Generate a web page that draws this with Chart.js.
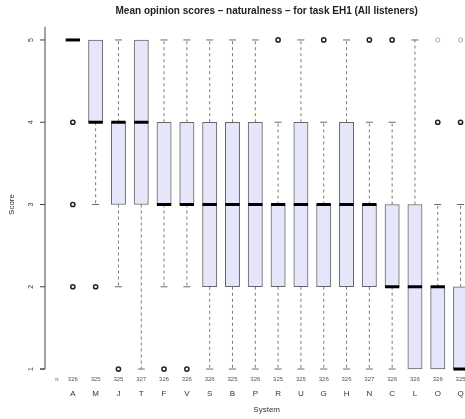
<!DOCTYPE html>
<html>
<head>
<meta charset="utf-8">
<script src="https://cdn.jsdelivr.net/npm/chart.js@4.4.0/dist/chart.umd.min.js"></script>
<style>
  html, body { margin: 0; padding: 0; background: #fff; overflow: hidden; width: 465px; height: 419px; }
  canvas { display: block; }
</style>
</head>
<body>
<canvas id="chart" width="490" height="419" style="width:490px;height:419px"></canvas>
<script>
// Systems in plotted order and the number of ratings each received
const systems = ['A','M','J','T','F','V','S','B','P','R','U','G','H','N','C','L','O','Q'];
const counts  = [326,325,325,327,326,326,326,325,326,325,325,326,326,327,326,326,326,325];

// Five-number summaries of the scores
const lowerQuartile = [5,4,3,3,3,3,2,2,2,2,2,2,2,2,2,1,1,1];
const medians       = [5,4,4,4,3,3,3,3,3,3,3,3,3,3,2,2,2,1];
const upperQuartile = [5,5,4,5,4,4,4,4,4,3,4,3,4,3,3,3,2,2];
const whiskerLow    = [5,3,2,1,2,2,1,1,1,1,1,1,1,1,1,1,1,1];
const whiskerHigh   = [5,5,5,5,5,5,5,5,5,4,5,4,5,4,4,5,3,3];

// Outlying scores (frequent ones and single, rare ones)
const outliers     = [[4,3,2],[2],[1],[],[1],[1],[],[],[],[5],[],[5],[],[5],[5],[],[4],[4]];
const rareOutliers = [[],[],[],[],[],[],[],[],[],[],[],[],[],[],[],[],[5],[5]];

const scoreTicks = [1,2,3,4,5];

const FONT = "'Liberation Sans', Arial, Helvetica, sans-serif";
const BOX_W = 14.3;
const STAPLE_W = 7;

const boxPlot = {
  id: 'boxPlot',
  beforeDatasetsDraw(chart) {
    const {ctx, scales: {x, y}} = chart;
    ctx.save();
    systems.forEach((s, i) => {
      const px = x.getPixelForValue(i + 1);
      // dashed whiskers
      ctx.setLineDash([3, 3]);
      ctx.strokeStyle = '#7a7a7a';
      ctx.lineWidth = 1;
      if (whiskerHigh[i] > upperQuartile[i]) {
        ctx.beginPath();
        ctx.moveTo(px, y.getPixelForValue(upperQuartile[i]));
        ctx.lineTo(px, y.getPixelForValue(whiskerHigh[i]));
        ctx.stroke();
      }
      if (whiskerLow[i] < lowerQuartile[i]) {
        ctx.beginPath();
        ctx.moveTo(px, y.getPixelForValue(lowerQuartile[i]));
        ctx.lineTo(px, y.getPixelForValue(whiskerLow[i]));
        ctx.stroke();
      }
      // staples
      ctx.setLineDash([]);
      ctx.strokeStyle = '#6a6a6a';
      [whiskerHigh[i], whiskerLow[i]].forEach((v, k) => {
        const edge = k === 0 ? upperQuartile[i] : lowerQuartile[i];
        if (v === edge) return;
        const py = y.getPixelForValue(v);
        ctx.beginPath();
        ctx.moveTo(px - STAPLE_W / 2, py);
        ctx.lineTo(px + STAPLE_W / 2, py);
        ctx.stroke();
      });
    });
    ctx.restore();
  },
  afterDatasetsDraw(chart) {
    const {ctx, scales: {x, y}} = chart;
    ctx.save();
    systems.forEach((s, i) => {
      const px = x.getPixelForValue(i + 1);
      // median bar
      const pm = y.getPixelForValue(medians[i]);
      ctx.strokeStyle = '#000';
      ctx.lineWidth = 3;
      ctx.beginPath();
      ctx.moveTo(px - BOX_W / 2, pm);
      ctx.lineTo(px + BOX_W / 2, pm);
      ctx.stroke();
      // outliers
      ctx.lineWidth = 1.5;
      ctx.strokeStyle = '#222';
      outliers[i].forEach(v => {
        ctx.beginPath();
        ctx.arc(px, y.getPixelForValue(v), 2.1, 0, Math.PI * 2);
        ctx.stroke();
      });
      ctx.lineWidth = 1;
      ctx.strokeStyle = '#aaa';
      rareOutliers[i].forEach(v => {
        ctx.beginPath();
        ctx.arc(px, y.getPixelForValue(v), 2.1, 0, Math.PI * 2);
        ctx.stroke();
      });
    });
    ctx.restore();
  },
  afterDraw(chart) {
    const {ctx, chartArea, scales: {x, y}} = chart;
    const left = chartArea.left;
    ctx.save();
    // y axis
    ctx.strokeStyle = '#444';
    ctx.lineWidth = 1;
    ctx.beginPath();
    ctx.moveTo(left, chartArea.top);
    ctx.lineTo(left, y.getPixelForValue(1));
    ctx.lineTo(left - 5, y.getPixelForValue(1));
    ctx.stroke();
    ctx.fillStyle = '#333';
    ctx.font = `7px ${FONT}`;
    ctx.textAlign = 'center';
    ctx.textBaseline = 'middle';
    scoreTicks.forEach(t => {
      const py = y.getPixelForValue(t);
      ctx.beginPath();
      ctx.moveTo(left - 5, py);
      ctx.lineTo(left, py);
      ctx.stroke();
      ctx.save();
      ctx.translate(left - 14, py);
      ctx.rotate(-Math.PI / 2);
      ctx.fillText(String(t), 0, 0);
      ctx.restore();
    });
    // y axis title
    ctx.font = `8px ${FONT}`;
    ctx.save();
    ctx.translate(12, (y.getPixelForValue(1) + y.getPixelForValue(5)) / 2);
    ctx.rotate(-Math.PI / 2);
    ctx.fillText('Score', 0, 0);
    ctx.restore();

    // counts row
    const countY = y.getPixelForValue(0.875);
    ctx.font = `6px ${FONT}`;
    ctx.fillStyle = '#555';
    ctx.fillText('n', x.getPixelForValue(0.3), countY);
    counts.forEach((c, i) => ctx.fillText(String(c), x.getPixelForValue(i + 1), countY));

    // category labels
    ctx.font = `8px ${FONT}`;
    ctx.fillStyle = '#333';
    systems.forEach((s, i) => ctx.fillText(s, x.getPixelForValue(i + 1), chartArea.bottom + 12));

    // x axis title
    ctx.fillText('System', (chartArea.left + chartArea.right) / 2, chartArea.bottom + 28);

    // title
    ctx.font = `bold 10px ${FONT}`;
    ctx.fillStyle = '#222';
    ctx.fillText('Mean opinion scores \u2013 naturalness \u2013 for task EH1 (All listeners)',
      (chartArea.left + chartArea.right) / 2, 11);
    ctx.restore();
  }
};

new Chart(document.getElementById('chart'), {
  type: 'bar',
  data: {
    datasets: [{
      data: systems.map((s, i) => ({x: i + 1, y: [lowerQuartile[i], upperQuartile[i]]})),
      backgroundColor: '#e6e6fa',
      borderColor: '#666',
      borderWidth: 1,
      borderSkipped: false,
      barThickness: BOX_W
    }]
  },
  options: {
    responsive: false,
    animation: false,
    layout: { padding: { left: 45, right: 1.6, top: 26.8, bottom: 36.8 } },
    scales: {
      x: { type: 'linear', min: -0.22, max: 19.22, offset: false, display: false },
      y: { type: 'linear', min: 0.84, max: 5.16, display: false }
    },
    plugins: { legend: { display: false }, tooltip: { enabled: false }, title: { display: false } }
  },
  plugins: [boxPlot]
});
</script>
</body>
</html>
